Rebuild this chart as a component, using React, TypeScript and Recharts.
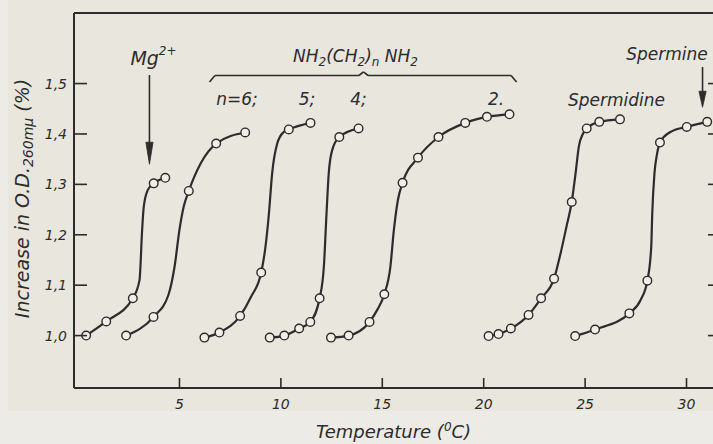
import React from 'react';
import { ComposedChart, Line, Scatter, XAxis, YAxis, ReferenceLine, ReferenceDot } from 'recharts';

// ---- data (temperature °C, relative increase in O.D.) ----
const xTicks = [5, 10, 15, 20, 25, 30];
const yTicks = [1.0, 1.1, 1.2, 1.3, 1.4, 1.5];

const mgPoints = [[0.4, 1.0], [1.39, 1.028], [2.7, 1.074], [3.73, 1.302], [4.3, 1.313]];
const mgCurve = [[0.4, 1.0], [1.39, 1.028], [2.7, 1.074], [3.03, 1.11], [3.16, 1.21], [3.24, 1.256], [3.44, 1.289], [3.73, 1.302], [4.3, 1.313]];

const n6Points = [[2.37, 1.0], [3.72, 1.037], [5.46, 1.287], [6.81, 1.381], [8.24, 1.403]];
const n6Curve = [[2.37, 1.0], [3.72, 1.037], [4.45, 1.08], [4.76, 1.137], [5.0, 1.21], [5.21, 1.256], [5.46, 1.287], [6.05, 1.342], [6.81, 1.381], [8.24, 1.403]];

const n5Points = [[6.23, 0.996], [6.97, 1.006], [7.99, 1.039], [9.03, 1.125], [10.39, 1.409], [11.46, 1.422]];
const n5Curve = [[6.23, 0.996], [6.97, 1.006], [7.99, 1.039], [8.53, 1.077], [9.03, 1.125], [9.24, 1.176], [9.41, 1.242], [9.57, 1.322], [9.82, 1.381], [10.14, 1.404], [10.39, 1.409], [11.46, 1.422]];

const n4Points = [[9.45, 0.996], [10.17, 1.0], [10.9, 1.014], [11.45, 1.027], [11.91, 1.074], [12.88, 1.394], [13.83, 1.411]];
const n4Curve = [[9.45, 0.996], [10.17, 1.0], [10.9, 1.014], [11.45, 1.027], [11.91, 1.074], [12.12, 1.137], [12.25, 1.242], [12.36, 1.322], [12.53, 1.368], [12.88, 1.394], [13.83, 1.411]];

const n2Points = [[12.47, 0.996], [13.34, 1.0], [14.37, 1.027], [15.1, 1.082], [16.0, 1.303], [16.76, 1.353], [17.77, 1.394], [19.09, 1.422], [20.16, 1.434], [21.27, 1.439]];
const n2Curve = [[12.47, 0.996], [13.34, 1.0], [14.37, 1.027], [14.75, 1.051], [15.1, 1.082], [15.4, 1.137], [15.57, 1.209], [15.77, 1.269], [16.0, 1.303], [16.76, 1.353], [17.77, 1.394], [19.09, 1.422], [20.16, 1.434], [21.27, 1.439]];

const spermidinePoints = [[20.24, 0.999], [20.73, 1.003], [21.34, 1.014], [22.21, 1.041], [22.83, 1.074], [23.47, 1.113], [24.34, 1.265], [25.08, 1.411], [25.7, 1.424], [26.72, 1.429]];
const spermidineCurve = [[20.24, 0.999], [20.73, 1.003], [21.34, 1.014], [22.21, 1.041], [22.83, 1.074], [23.47, 1.113], [23.79, 1.163], [24.08, 1.216], [24.34, 1.265], [24.53, 1.322], [24.69, 1.375], [24.9, 1.401], [25.08, 1.411], [25.7, 1.424], [26.72, 1.429]];

const sperminePoints = [[24.51, 0.999], [25.49, 1.012], [27.18, 1.044], [28.07, 1.109], [28.69, 1.383], [30.01, 1.414], [31.02, 1.424]];
const spermineCurve = [[24.51, 0.999], [25.49, 1.012], [27.18, 1.044], [27.73, 1.07], [28.07, 1.109], [28.26, 1.176], [28.31, 1.242], [28.42, 1.322], [28.55, 1.361], [28.69, 1.383], [29.21, 1.404], [30.01, 1.414], [31.02, 1.424]];

const toXY = (a: number[][]) => a.map(([x, y]) => ({ x, y }));
const series = [
  { name: 'Mg', curve: mgCurve, points: mgPoints },
  { name: 'n6', curve: n6Curve, points: n6Points },
  { name: 'n5', curve: n5Curve, points: n5Points },
  { name: 'n4', curve: n4Curve, points: n4Points },
  { name: 'n2', curve: n2Curve, points: n2Points },
  { name: 'spermidine', curve: spermidineCurve, points: spermidinePoints },
  { name: 'spermine', curve: spermineCurve, points: sperminePoints },
];

const X_DOMAIN: [number, number] = [-0.2, 31.7];
const Y_DOMAIN: [number, number] = [0.896, 1.64];

// ---- styles ----
const INK = '#2c2c2c';
const PAPER = '#e9e6dd';
const FONT = "'DejaVu Sans', 'Liberation Sans', sans-serif";

const BottomTick = (p: any) => (
  <g>
    <line x1={p.x} x2={p.x} y1={p.y} y2={p.y - 10} stroke={INK} strokeWidth={1.6} />
    <text x={p.x} y={p.y + 21} textAnchor="middle" fontFamily={FONT} fontStyle="italic" fontSize={14} fill={INK}>
      {p.payload.value}
    </text>
  </g>
);

const LeftTick = (p: any) => (
  <g>
    <line x1={p.x} x2={p.x + 13} y1={p.y} y2={p.y} stroke={INK} strokeWidth={1.6} />
    <text x={p.x - 7} y={p.y + 5} textAnchor="end" fontFamily={FONT} fontStyle="italic" fontSize={14} fill={INK}>
      {Number(p.payload.value).toFixed(1).replace('.', ',')}
    </text>
  </g>
);

const YTitle = (p: any) => {
  const vb = p.viewBox || { x: 0, y: 13, width: 74, height: 375 };
  const x = vb.x + 29;
  const y = vb.y + vb.height / 2 - 2;
  return (
    <text x={x} y={y} transform={`rotate(-90, ${x}, ${y})`} textAnchor="middle" fontFamily={FONT} fontStyle="italic" fontSize={19} fill={INK}>
      Increase in O.D.<tspan dy={4} fontSize={14}>260mμ</tspan><tspan dy={-4}> (%)</tspan>
    </text>
  );
};

const XTitle = (p: any) => {
  const vb = p.viewBox || { x: 74, y: 388, width: 647, height: 56 };
  const x = vb.x + vb.width / 2 - 4;
  const y = vb.y + 50;
  return (
    <text x={x} y={y} textAnchor="middle" fontFamily={FONT} fontStyle="italic" fontSize={18} fill={INK}>
      Temperature (<tspan dy={-7} fontSize={12}>0</tspan><tspan dy={7}>C)</tspan>
    </text>
  );
};

const Marker = (p: any) => (
  <circle cx={p.cx} cy={p.cy} r={4.3} fill="#f1eee8" stroke={INK} strokeWidth={1.4} />
);

const label = (content: React.ReactNode, anchor: 'start' | 'middle' | 'end' = 'middle', size = 17) => (p: any) => (
  <text x={p.cx} y={p.cy} textAnchor={anchor} fontFamily={FONT} fontStyle="italic" fontSize={size} fill={INK}>
    {content}
  </text>
);

const arrowHead = (len: number) => (p: any) => (
  <path d={`M${p.cx},${p.cy} L${p.cx - 3.6},${p.cy - len} L${p.cx + 3.6},${p.cy - len} Z`} fill={INK} stroke={INK} strokeWidth={0.8} />
);

const AX = { xAxisId: 'b', yAxisId: 'l' };

export default function App() {
  return (
    <div
      style={{
        position: 'fixed', left: 0, top: 0, width: 713, height: 444, overflow: 'hidden',
        background: `linear-gradient(to right, #edebe5 8px, transparent 8px), linear-gradient(to bottom, ${PAPER} 411px, #edebe5 411px)`,
      }}
    >
      <ComposedChart width={730} height={444} margin={{ top: 13, right: 9, bottom: 0, left: 0 }}>
        <XAxis
          xAxisId="b" type="number" dataKey="x" domain={X_DOMAIN} ticks={xTicks} allowDataOverflow
          height={56} tickSize={0} tickMargin={0} tickLine={false} tick={BottomTick}
          axisLine={{ stroke: INK, strokeWidth: 2 }} interval={0}
          label={{ content: XTitle }}
        />
        <YAxis
          yAxisId="l" type="number" dataKey="y" domain={Y_DOMAIN} ticks={yTicks} allowDataOverflow
          width={74} tickSize={0} tickMargin={0} tickLine={false} tick={LeftTick} interval={0}
          axisLine={{ stroke: INK, strokeWidth: 2 }}
          label={{ content: YTitle }}
        />

        {/* frame: top border and right-hand inward ticks */}
        <ReferenceLine {...AX} y={Y_DOMAIN[1]} stroke={INK} strokeWidth={2} />
        <ReferenceLine {...AX} x={X_DOMAIN[1]} stroke={INK} strokeWidth={2} />
        {yTicks.map((v) => (
          <ReferenceLine key={'rt' + v} {...AX} segment={[{ x: 31.06, y: v }, { x: X_DOMAIN[1], y: v }]} stroke={INK} strokeWidth={1.6} />
        ))}

        {series.map((s) => (
          <Line
            key={s.name + '-curve'} {...AX} data={toXY(s.curve)} dataKey="y" type="monotone"
            stroke={INK} strokeWidth={2.2} dot={false} activeDot={false} isAnimationActive={false}
          />
        ))}
        {series.map((s) => (
          <Scatter key={s.name + '-pts'} {...AX} data={toXY(s.points)} dataKey="y" shape={Marker} isAnimationActive={false} />
        ))}

        {/* Mg2+ annotation */}
        <ReferenceDot {...AX} x={2.58} y={1.537} r={0} shape={label(<>Mg<tspan dy={-10} fontSize={12}>2+</tspan></>, 'start', 19)} />
        <ReferenceLine {...AX} segment={[{ x: 3.52, y: 1.517 }, { x: 3.52, y: 1.37 }]} stroke={INK} strokeWidth={1.6} />
        <ReferenceDot {...AX} x={3.52} y={1.34} r={0} shape={arrowHead(22)} />

        {/* diamine brace and labels */}
        <ReferenceDot {...AX} x={13.68} y={1.543} r={0}
          shape={label(<>NH<tspan dy={4} fontSize={12}>2</tspan><tspan dy={-4}>(CH</tspan><tspan dy={4} fontSize={12}>2</tspan><tspan dy={-4}>)</tspan><tspan dy={4} fontSize={12}>n</tspan><tspan dy={-4}> NH</tspan><tspan dy={4} fontSize={12}>2</tspan></>)} />
        <ReferenceLine {...AX} segment={[{ x: 6.48, y: 1.503 }, { x: 6.75, y: 1.516 }]} stroke={INK} strokeWidth={1.6} />
        <ReferenceLine {...AX} segment={[{ x: 6.75, y: 1.516 }, { x: 13.85, y: 1.516 }]} stroke={INK} strokeWidth={1.6} />
        <ReferenceLine {...AX} segment={[{ x: 13.85, y: 1.516 }, { x: 14.07, y: 1.523 }]} stroke={INK} strokeWidth={1.6} />
        <ReferenceLine {...AX} segment={[{ x: 14.07, y: 1.523 }, { x: 14.3, y: 1.516 }]} stroke={INK} strokeWidth={1.6} />
        <ReferenceLine {...AX} segment={[{ x: 14.3, y: 1.516 }, { x: 21.35, y: 1.516 }]} stroke={INK} strokeWidth={1.6} />
        <ReferenceLine {...AX} segment={[{ x: 21.35, y: 1.516 }, { x: 21.62, y: 1.503 }]} stroke={INK} strokeWidth={1.6} />
        <ReferenceDot {...AX} x={7.84} y={1.457} r={0} shape={label('n=6;')} />
        <ReferenceDot {...AX} x={11.29} y={1.457} r={0} shape={label('5;')} />
        <ReferenceDot {...AX} x={13.83} y={1.457} r={0} shape={label('4;')} />
        <ReferenceDot {...AX} x={20.61} y={1.457} r={0} shape={label('2.')} />

        {/* polyamines */}
        <ReferenceDot {...AX} x={26.55} y={1.455} r={0} shape={label('Spermidine')} />
        <ReferenceDot {...AX} x={29.04} y={1.547} r={0} shape={label('Spermine')} />
        <ReferenceLine {...AX} segment={[{ x: 30.79, y: 1.533 }, { x: 30.79, y: 1.478 }]} stroke={INK} strokeWidth={1.6} />
        <ReferenceDot {...AX} x={30.79} y={1.453} r={0} shape={arrowHead(16)} />
      </ComposedChart>
    </div>
  );
}
